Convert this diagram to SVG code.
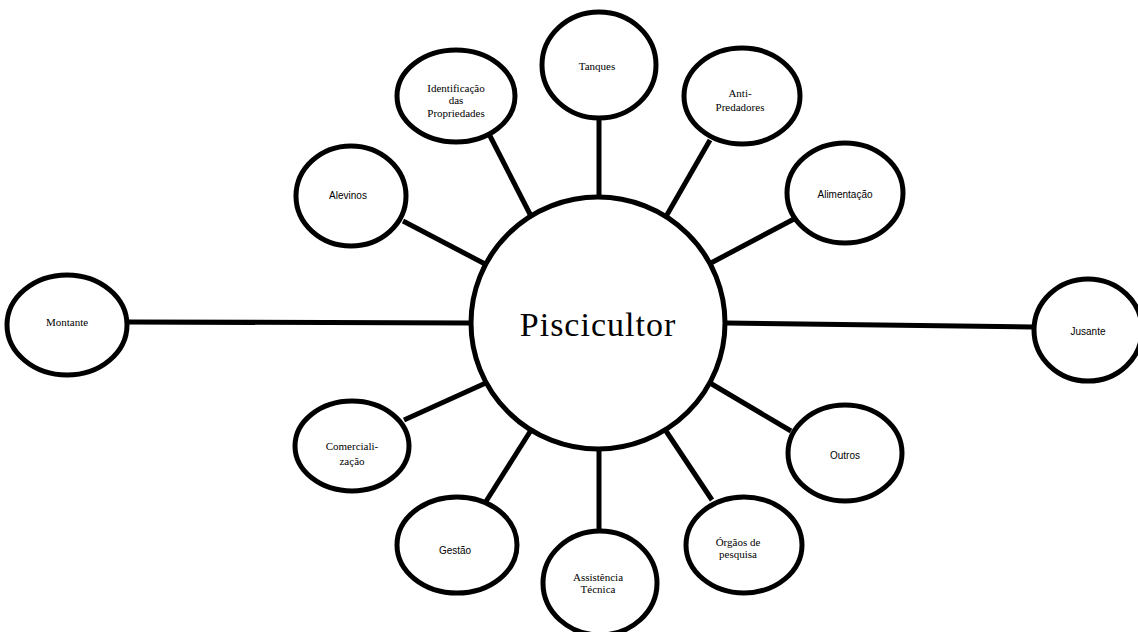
<svg xmlns="http://www.w3.org/2000/svg" width="1138" height="632" viewBox="0 0 1138 632">
<style>
.n{fill:#fff;stroke:#000;stroke-width:5}
.c line{stroke:#000;stroke-width:5}
text{font-family:"Liberation Serif","Times New Roman",serif;font-size:11px;fill:#000;text-anchor:middle}
.s{font-family:"Liberation Sans",Arial,sans-serif;font-size:10px}
.big{font-size:34px;letter-spacing:1px}
</style>
<rect width="1138" height="632" fill="#fff"/>
<g class="c" id="connectors">
<line x1="127" y1="322" x2="471" y2="323"/>
<line x1="726" y1="323" x2="1032" y2="327"/>
<line x1="599" y1="118" x2="599" y2="198"/>
<line x1="490" y1="136" x2="533" y2="220"/>
<line x1="710" y1="140" x2="664" y2="220"/>
<line x1="403" y1="221" x2="487" y2="265"/>
<line x1="794" y1="219" x2="709" y2="264"/>
<line x1="404" y1="420" x2="488" y2="382"/>
<line x1="485" y1="503" x2="533" y2="427"/>
<line x1="599" y1="440" x2="599" y2="532"/>
<line x1="712" y1="500" x2="664" y2="428"/>
<line x1="791" y1="431" x2="710" y2="383"/>
</g>
<g id="piscicultor"><ellipse class="n" cx="598" cy="323" rx="127" ry="126"/><text class="big" x="598" y="336">Piscicultor</text></g>
<g id="tanques"><ellipse class="n" cx="599" cy="65" rx="57" ry="53"/><text x="597" y="70">Tanques</text></g>
<g id="identificacao"><ellipse class="n" cx="456" cy="96" rx="59" ry="46"/><text x="456" y="92">Identificação</text><text x="456" y="104">das</text><text x="456" y="117">Propriedades</text></g>
<g id="antipredadores"><ellipse class="n" cx="742" cy="96" rx="58" ry="48"/><text x="740" y="97">Anti-</text><text x="740" y="111">Predadores</text></g>
<g id="alevinos"><ellipse class="n" cx="351" cy="196" rx="55" ry="50"/><text class="s" x="348" y="199">Alevinos</text></g>
<g id="alimentacao"><ellipse class="n" cx="845" cy="193" rx="58" ry="50"/><text class="s" x="845" y="198">Alimentação</text></g>
<g id="montante"><ellipse class="n" cx="67" cy="325" rx="60" ry="50"/><text x="67" y="326">Montante</text></g>
<g id="jusante"><ellipse class="n" cx="1088" cy="330" rx="54" ry="51"/><text class="s" x="1088" y="335">Jusante</text></g>
<g id="comercializacao"><ellipse class="n" cx="352" cy="446" rx="57" ry="45"/><text x="352" y="450">Comerciali-</text><text x="352" y="465">zação</text></g>
<g id="gestao"><ellipse class="n" cx="457" cy="545" rx="60" ry="48"/><text class="s" x="455" y="554">Gestão</text></g>
<g id="assistencia"><ellipse class="n" cx="600" cy="583" rx="57" ry="52"/><text x="598" y="581">Assistência</text><text x="598" y="593">Técnica</text></g>
<g id="orgaos"><ellipse class="n" cx="744" cy="545" rx="58" ry="48"/><text x="738" y="546">Órgãos de</text><text x="738" y="558">pesquisa</text></g>
<g id="outros"><ellipse class="n" cx="845" cy="453" rx="57" ry="48"/><text class="s" x="845" y="459">Outros</text></g>
</svg>
